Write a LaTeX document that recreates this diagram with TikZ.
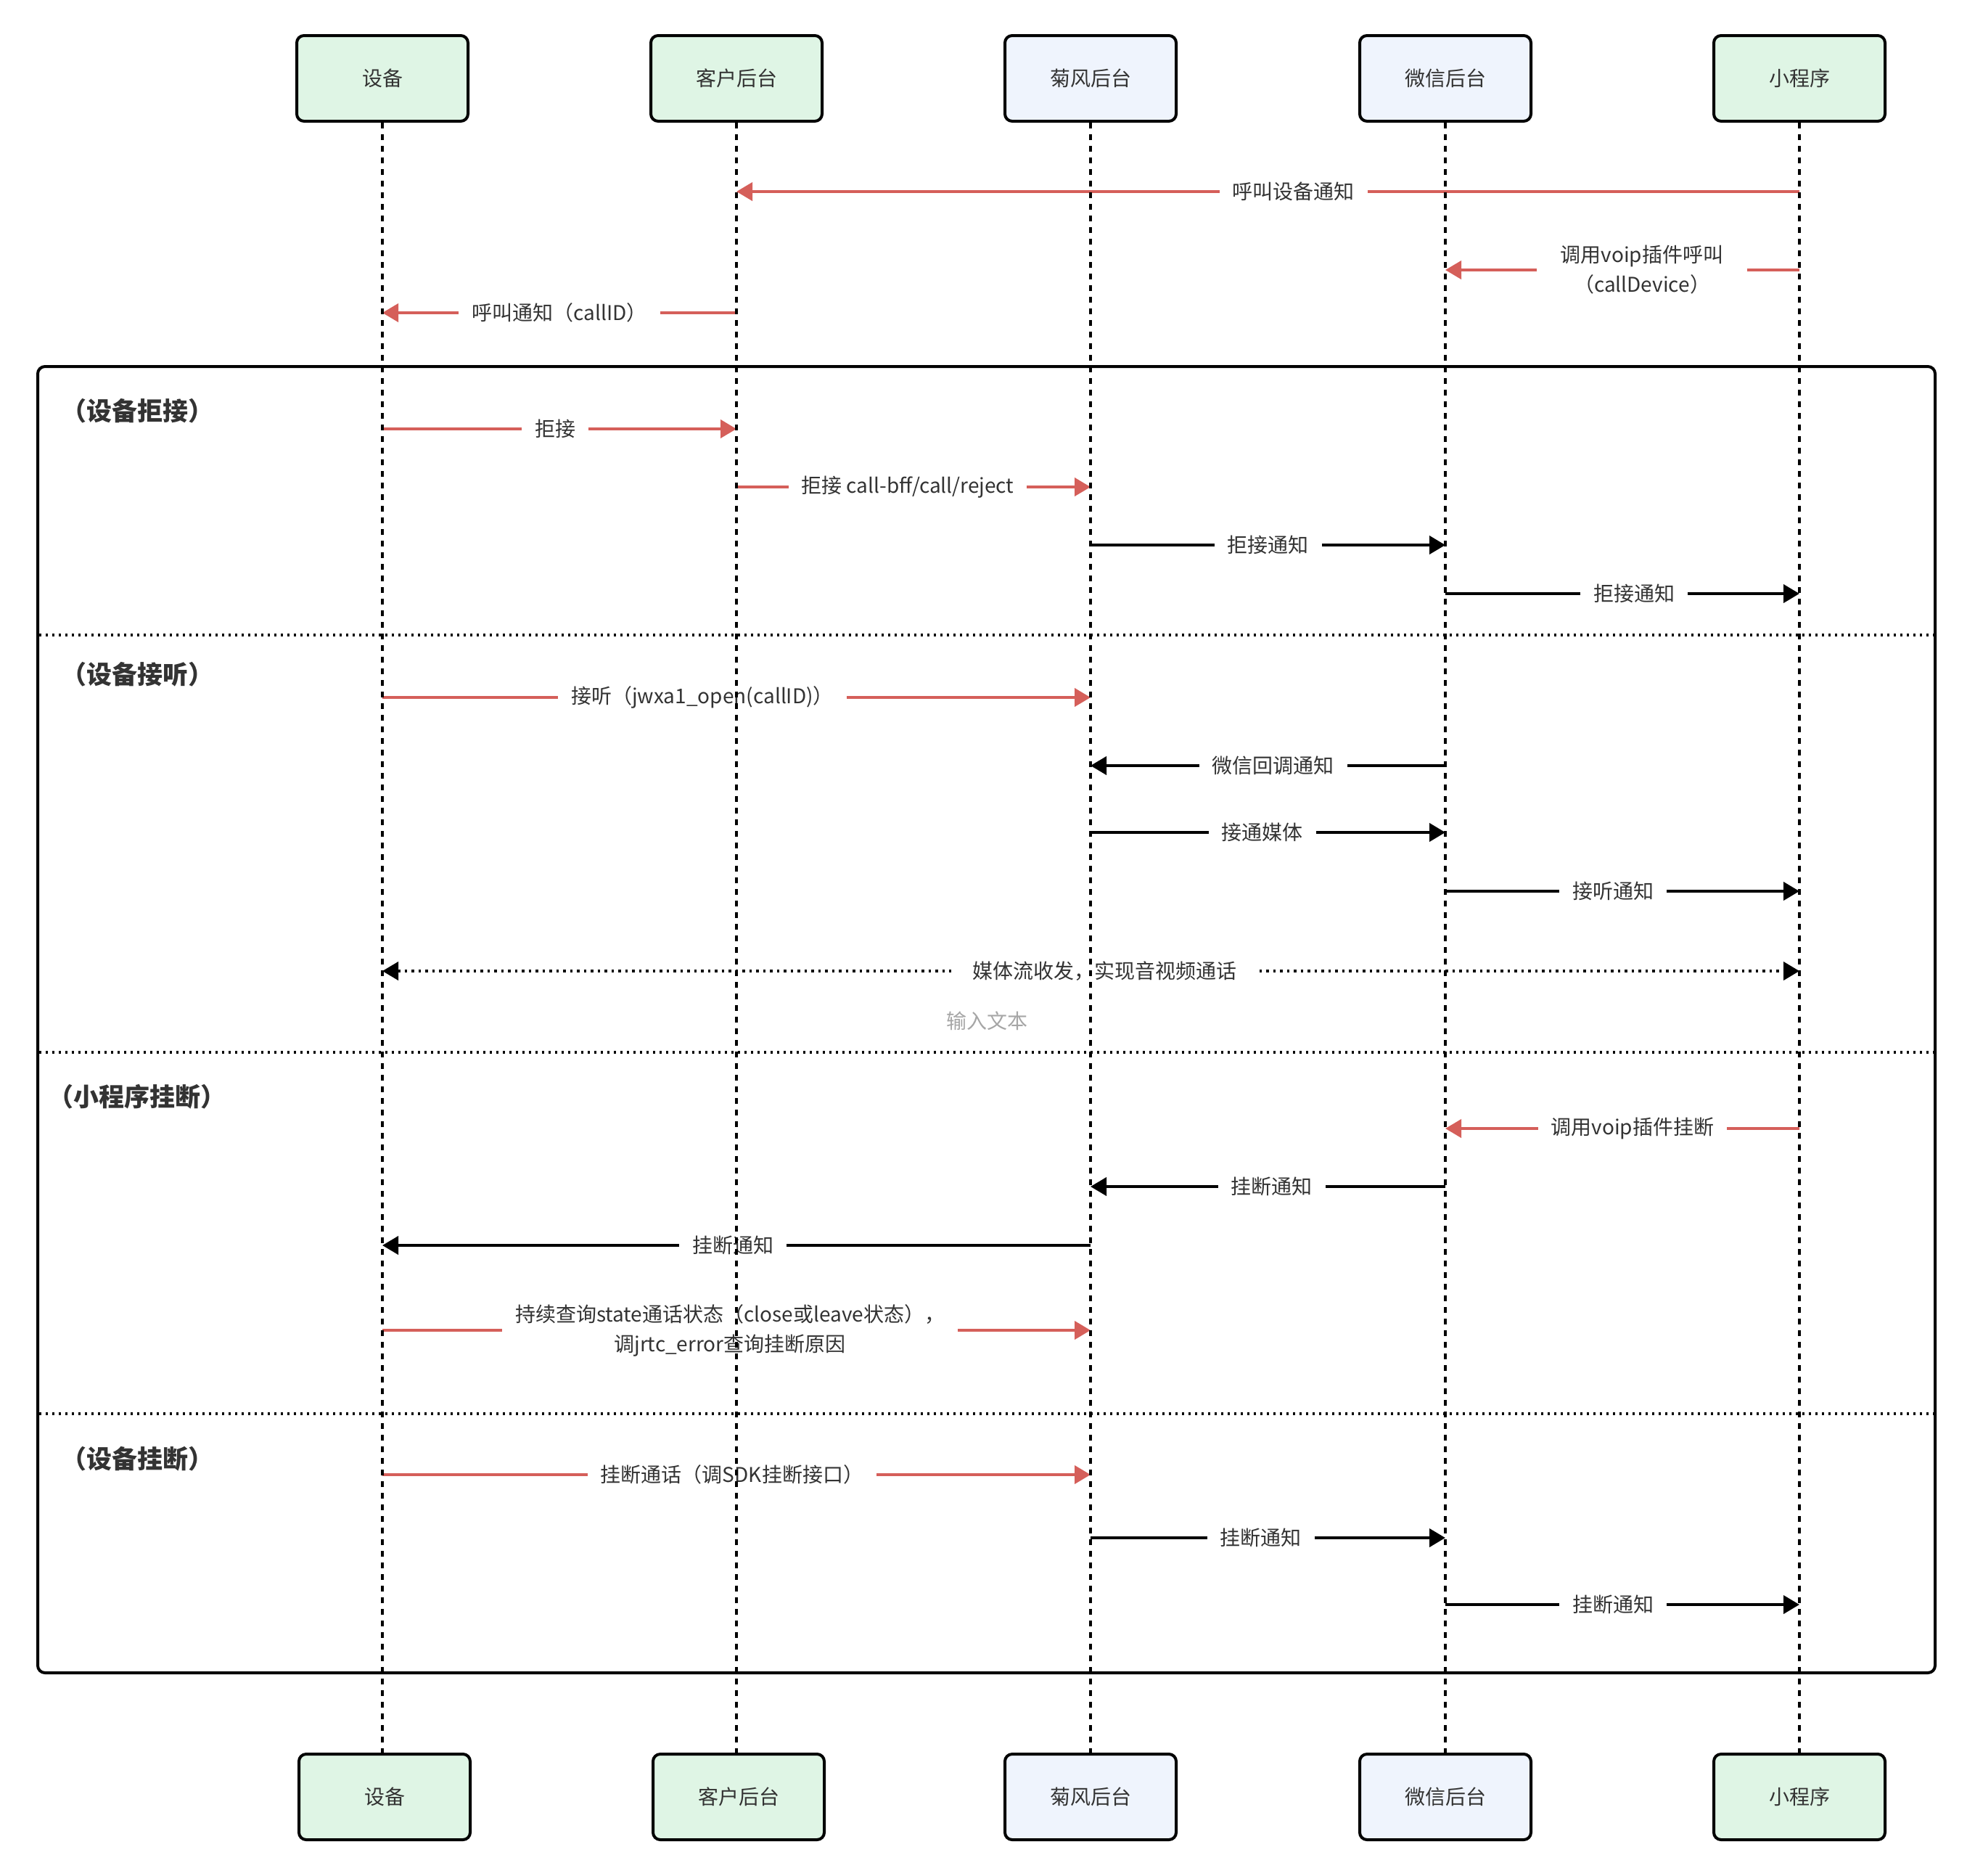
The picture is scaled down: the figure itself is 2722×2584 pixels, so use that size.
\documentclass[tikz,border=0pt]{standalone}
\usepackage{fontspec}
\setmainfont{Noto Sans CJK SC}
\usetikzlibrary{arrows.meta}
\definecolor{boxgreen}{HTML}{DFF5E5}
\definecolor{boxblue}{HTML}{EFF4FD}
\definecolor{msgred}{HTML}{D55F5A}
\definecolor{txtc}{HTML}{333333}
\definecolor{hintc}{HTML}{A6A6A6}
\begin{document}
\begin{tikzpicture}[x=1pt,y=-1pt,
  actor/.style={draw=black, line width=4pt, rounded corners=10pt, minimum width=236pt, minimum height=118pt, inner sep=0pt, font=\fontsize{28pt}{34pt}\selectfont, text=txtc},
  gactor/.style={actor, fill=boxgreen},
  bactor/.style={actor, fill=boxblue},
  lifeline/.style={line width=3.5pt, dash pattern=on 8pt off 8pt},
  msgbase/.style={line width=4pt, -{Triangle[length=22pt,width=25pt]}},
  redmsg/.style={msgbase, color=msgred},
  blkmsg/.style={msgbase, color=black},
  lbl/.style={fill=white, inner xsep=18pt, inner ysep=4pt, text=txtc, font=\fontsize{28pt}{41pt}\selectfont, align=center},
  sect/.style={font=\bfseries\fontsize{35pt}{42pt}\selectfont, text=txtc, inner sep=0pt},
  divider/.style={line width=3.5pt, dash pattern=on 3pt off 6pt},
  grpframe/.style={draw=black, line width=4pt, rounded corners=10pt}
]
\useasboundingbox (0,0) rectangle (2722,2584);

% group frame and dividers
\draw[grpframe] (52,505) rectangle (2667,2305);
\coordinate (dvL1) at (54,875);  \coordinate (dvR1) at (2665,875);
\coordinate (dvL2) at (54,1450); \coordinate (dvR2) at (2665,1450);
\coordinate (dvL3) at (54,1948); \coordinate (dvR3) at (2665,1948);
\draw[divider] (dvL1) -- (dvR1);
\draw[divider] (dvL2) -- (dvR2);
\draw[divider] (dvL3) -- (dvR3);

% section labels
\node[sect] (s1) at (189,566) {（设备拒接）};
\node[sect] (s2) at (189,929) {（设备接听）};
\node[sect] (s3) at (189,1511) {（小程序挂断）};
\node[sect] (s4) at (189,2010) {（设备挂断）};

% participants
\node[gactor] (dev)  at (527,108)  {设备};
\node[gactor] (cust) at (1015,108) {客户后台};
\node[bactor] (jf)   at (1503,108) {菊风后台};
\node[bactor] (wx)   at (1992,108) {微信后台};
\node[gactor] (mp)   at (2480,108) {小程序};

\node[gactor] (devB)  at (530,2476)  {设备};
\node[gactor] (custB) at (1018,2476) {客户后台};
\node[bactor] (jfB)   at (1503,2476) {菊风后台};
\node[bactor] (wxB)   at (1992,2476) {微信后台};
\node[gactor] (mpB)   at (2480,2476) {小程序};

% messages
\draw[redmsg] (mp |- 0,264) -- node[lbl, xshift=35pt] {呼叫设备通知} (cust |- 0,264);
\draw[redmsg] (mp |- 0,372) -- node[lbl, xshift=27pt, inner xsep=33pt] {调用voip插件呼叫\\（callDevice）} (wx |- 0,372);
\draw[redmsg] (cust |- 0,431) -- node[lbl] {呼叫通知（callID）} (dev |- 0,431);

\draw[redmsg] (dev |- 0,591) -- node[lbl, xshift=-6pt] {拒接} (cust |- 0,591);
\draw[redmsg] (cust |- 0,671) -- node[lbl, xshift=-8pt] {拒接 call-bff/call/reject} (jf |- 0,671);
\draw[blkmsg] (jf |- 0,751) -- node[lbl] {拒接通知} (wx |- 0,751);
\draw[blkmsg] (wx |- 0,818) -- node[lbl, xshift=16pt] {拒接通知} (mp |- 0,818);

\draw[redmsg] (dev |- 0,961) -- node[lbl, xshift=-47pt] {接听（jwxa1\_open(callID)）} (jf |- 0,961);
\draw[blkmsg] (wx |- 0,1055) -- node[lbl, xshift=7pt] {微信回调通知} (jf |- 0,1055);
\draw[blkmsg] (jf |- 0,1147) -- node[lbl, xshift=-8pt] {接通媒体} (wx |- 0,1147);
\draw[blkmsg] (wx |- 0,1228) -- node[lbl, xshift=-13pt] {接听通知} (mp |- 0,1228);
\draw[blkmsg, {Triangle[length=22pt,width=25pt]}-{Triangle[length=22pt,width=25pt]}, dash pattern=on 3.5pt off 6pt]
  (dev |- 0,1338) -- node[lbl, xshift=19pt, inner xsep=30pt] {媒体流收发，实现音视频通话} (mp |- 0,1338);
\node[text=hintc, font=\fontsize{28pt}{34pt}\selectfont] (hint) at (1360,1407) {输入文本};

\draw[redmsg] (mp |- 0,1555) -- node[lbl, xshift=14pt] {调用voip插件挂断} (wx |- 0,1555);
\draw[blkmsg] (wx |- 0,1635) -- node[lbl, xshift=5pt] {挂断通知} (jf |- 0,1635);
\draw[blkmsg] (jf |- 0,1716) -- node[lbl, xshift=-5pt] {挂断通知} (dev |- 0,1716);
\draw[redmsg] (dev |- 0,1833) -- node[lbl, xshift=-9pt] {持续查询state通话状态（close或leave状态），\\调jrtc\_error查询挂断原因} (jf |- 0,1833);

\draw[redmsg] (dev |- 0,2032) -- node[lbl, xshift=-6pt] {挂断通话（调SDK挂断接口）} (jf |- 0,2032);
\draw[blkmsg] (jf |- 0,2119) -- node[lbl, xshift=-10pt] {挂断通知} (wx |- 0,2119);
\draw[blkmsg] (wx |- 0,2211) -- node[lbl, xshift=-13pt] {挂断通知} (mp |- 0,2211);

% lifelines on top
\draw[lifeline] (dev.south) -- (dev.south |- devB.north);
\draw[lifeline] (cust.south) -- (cust.south |- custB.north);
\draw[lifeline] (jf.south) -- (jfB.north);
\draw[lifeline] (wx.south) -- (wxB.north);
\draw[lifeline] (mp.south) -- (mpB.north);
\end{tikzpicture}
\end{document}
